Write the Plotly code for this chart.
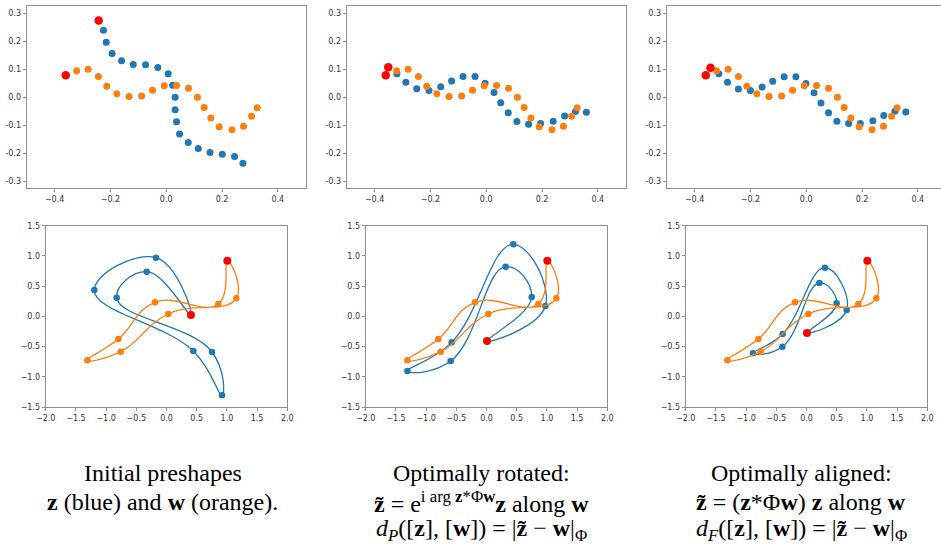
import plotly.graph_objects as go

# ---------------- data ----------------
# top row: discrete preshapes (first point of each is highlighted red)
w_top_x = [-0.360, -0.321, -0.280, -0.243, -0.213, -0.177, -0.133, -0.088, -0.049, -0.007,
           0.037, 0.080, 0.112, 0.136, 0.160, 0.190, 0.236, 0.277, 0.306, 0.326]
w_top_y = [0.078, 0.094, 0.100, 0.074, 0.039, 0.012, 0.002, 0.004, 0.025, 0.041,
           0.042, 0.032, 0.000, -0.037, -0.075, -0.106, -0.117, -0.104, -0.068, -0.038]

z_init_x = [-0.242, -0.225, -0.215, -0.194, -0.160, -0.118, -0.074, -0.030, 0.007, 0.023,
            0.032, 0.032, 0.037, 0.048, 0.079, 0.115, 0.157, 0.201, 0.245, 0.275]
z_init_y = [0.274, 0.239, 0.196, 0.156, 0.130, 0.117, 0.116, 0.106, 0.084, 0.043,
            0.000, -0.045, -0.088, -0.132, -0.162, -0.184, -0.198, -0.204, -0.212, -0.236]

z_rot_x = [-0.351, -0.320, -0.288, -0.249, -0.205, -0.163, -0.124, -0.083, -0.040, -0.004,
           0.028, 0.052, 0.079, 0.110, 0.152, 0.195, 0.240, 0.281, 0.320, 0.359]
z_rot_y = [0.107, 0.084, 0.053, 0.030, 0.024, 0.037, 0.058, 0.074, 0.074, 0.050,
           0.017, -0.020, -0.056, -0.087, -0.097, -0.094, -0.086, -0.067, -0.051, -0.054]

z_ali_x = [-0.343, -0.313, -0.282, -0.243, -0.200, -0.158, -0.120, -0.079, -0.037, -0.001,
           0.028, 0.053, 0.080, 0.110, 0.152, 0.194, 0.239, 0.278, 0.318, 0.357]
z_ali_y = [0.105, 0.084, 0.053, 0.029, 0.024, 0.036, 0.057, 0.073, 0.073, 0.049,
           0.016, -0.021, -0.056, -0.086, -0.094, -0.094, -0.084, -0.066, -0.050, -0.053]

# bottom row: closed spline curves through knot points (first knot highlighted red)
w_bot_x = [1.007, 1.156, 0.030, -0.759, -1.310, -0.797, -0.190, 0.858]
w_bot_y = [0.921, 0.298, 0.039, -0.585, -0.728, -0.375, 0.232, 0.204]

zb_init_x = [0.405, -0.174, -1.195, 0.444, 0.919, 0.753, -0.825, -0.328]
zb_init_y = [0.022, 0.971, 0.436, -0.574, -1.307, -0.590, 0.309, 0.739]

zb_rot_x = [0.008, 0.974, 0.444, -0.577, -1.310, -0.593, 0.317, 0.748]
zb_rot_y = [-0.408, 0.171, 1.191, -0.430, -0.905, -0.739, 0.822, 0.320]

zb_ali_x = [0.008, 0.665, 0.306, -0.395, -0.886, -0.400, 0.212, 0.499]
zb_ali_y = [-0.276, 0.105, 0.805, -0.292, -0.612, -0.502, 0.552, 0.215]

top_yticks = [-0.3, -0.2, -0.1, 0.0, 0.1, 0.2, 0.3]
top_yticktext = ["-0.3", "-0.2", "-0.1", "0.0", "0.1", "0.2", "0.3"]

captions = [
    ["Initial preshapes",
     "<b>z</b> (blue) and <b>w</b> (orange)."],
    ["Optimally rotated:",
     "<b>z\u0303</b> = e<sup>i arg <b>z</b>*\u03a6<b>w</b></sup><b>z</b> along <b>w</b>",
     "<i>d</i><sub><i>P</i></sub>([<b>z</b>], [<b>w</b>]) = |<b>z\u0303</b> \u2212 <b>w</b>|<sub>\u03a6</sub>"],
    ["Optimally aligned:",
     "<b>z\u0303</b> = (<b>z</b>*\u03a6<b>w</b>) <b>z</b> along <b>w</b>",
     "<i>d</i><sub><i>F</i></sub>([<b>z</b>], [<b>w</b>]) = |<b>z\u0303</b> \u2212 <b>w</b>|<sub>\u03a6</sub>"],
]

BLUE = "#1f77b4"
ORANGE = "#ff7f0e"
RED = "#ff0000"
W, H = 941, 552

fig = go.Figure()

top_sets = [(z_init_x, z_init_y), (z_rot_x, z_rot_y), (z_ali_x, z_ali_y)]
bot_sets = [(zb_init_x, zb_init_y), (zb_rot_x, zb_rot_y), (zb_ali_x, zb_ali_y)]

for i, (zx, zy) in enumerate(top_sets):
    xa, ya = "x%d" % (i + 1), "y%d" % (i + 1)
    fig.add_trace(go.Scatter(x=zx, y=zy, mode="markers", xaxis=xa, yaxis=ya,
                             marker=dict(color=BLUE, size=7)))
    fig.add_trace(go.Scatter(x=w_top_x, y=w_top_y, mode="markers", xaxis=xa, yaxis=ya,
                             marker=dict(color=ORANGE, size=7)))
    fig.add_trace(go.Scatter(x=[zx[0], w_top_x[0]], y=[zy[0], w_top_y[0]], mode="markers",
                             xaxis=xa, yaxis=ya, marker=dict(color=RED, size=8.5)))

for i, (zx, zy) in enumerate(bot_sets):
    xa, ya = "x%d" % (i + 4), "y%d" % (i + 4)
    fig.add_trace(go.Scatter(x=zx + zx[:1], y=zy + zy[:1], mode="lines", xaxis=xa, yaxis=ya,
                             line=dict(color=BLUE, width=1.3, shape="spline", smoothing=1.3)))
    fig.add_trace(go.Scatter(x=zx, y=zy, mode="markers", xaxis=xa, yaxis=ya,
                             marker=dict(color=BLUE, size=6.5)))
    fig.add_trace(go.Scatter(x=w_bot_x + w_bot_x[:1], y=w_bot_y + w_bot_y[:1], mode="lines",
                             xaxis=xa, yaxis=ya,
                             line=dict(color=ORANGE, width=1.3, shape="spline", smoothing=1.3)))
    fig.add_trace(go.Scatter(x=w_bot_x, y=w_bot_y, mode="markers", xaxis=xa, yaxis=ya,
                             marker=dict(color=ORANGE, size=6.5)))
    fig.add_trace(go.Scatter(x=[zx[0], w_bot_x[0]], y=[zy[0], w_bot_y[0]], mode="markers",
                             xaxis=xa, yaxis=ya, marker=dict(color=RED, size=8)))

tickfont = dict(family="DejaVu Sans", size=8, color="#333333")
common = dict(showgrid=False, zeroline=False, showline=True, linecolor="#8f8f8f", linewidth=1,
              ticks="outside", ticklen=3, tickcolor="#8f8f8f", tickfont=tickfont,
              fixedrange=True, automargin=False)

layout = dict(width=W, height=H, margin=dict(l=0, r=0, t=0, b=0, pad=0, autoexpand=False),
              showlegend=False, paper_bgcolor="white", plot_bgcolor="white")

# top row axes (pixel boxes)
top_boxes = [(26.7, 305.7), (346.7, 625.7), (666.7, 945.7)]
ty0, ty1 = 6.0, 188.3
for i, (l, r) in enumerate(top_boxes):
    xr1 = 0.5 if r <= W else -0.5 + (W - l) / (r - l)
    dom_r = min(r, W) / W
    layout["xaxis%d" % (i + 1)] = dict(common, domain=[l / W, dom_r], range=[-0.5, xr1],
                                       dtick=0.2, tick0=0, tickformat=".1f",
                                       anchor="y%d" % (i + 1), mirror=True)
    layout["yaxis%d" % (i + 1)] = dict(common, domain=[1 - ty1 / H, 1 - ty0 / H],
                                       range=[-0.326, 0.326], tickvals=top_yticks,
                                       ticktext=top_yticktext, anchor="x%d" % (i + 1),
                                       mirror=(r <= W))

bot_boxes = [(45.7, 287.3), (365.7, 607.3), (685.7, 927.3)]
by0, by1 = 225.7, 407.0
for i, (l, r) in enumerate(bot_boxes):
    layout["xaxis%d" % (i + 4)] = dict(common, domain=[l / W, r / W], range=[-2, 2],
                                       dtick=0.5, tick0=0, tickformat=".1f",
                                       anchor="y%d" % (i + 4), mirror=True)
    layout["yaxis%d" % (i + 4)] = dict(common, domain=[1 - by1 / H, 1 - by0 / H],
                                       range=[-1.5, 1.5], dtick=0.5, tick0=0, tickformat=".1f",
                                       anchor="x%d" % (i + 4), mirror=True)

fig.update_layout(**layout)

col_centers = [162.5, 481.0, 801.0]
line_centers = [473.0, 501.5, 530.0]
for cx, lines in zip(col_centers, captions):
    for j, txt in enumerate(lines):
        fig.add_annotation(text=txt, x=cx / W, y=1 - line_centers[j] / H, xref="paper",
                           yref="paper", xanchor="center", yanchor="middle", showarrow=False,
                           font=dict(family="Liberation Serif", size=24, color="black"))

fig.write_html("out.html", config={"displayModeBar": False, "staticPlot": True},
               post_script="document.body.style.margin='0';document.body.style.overflow='hidden';")
